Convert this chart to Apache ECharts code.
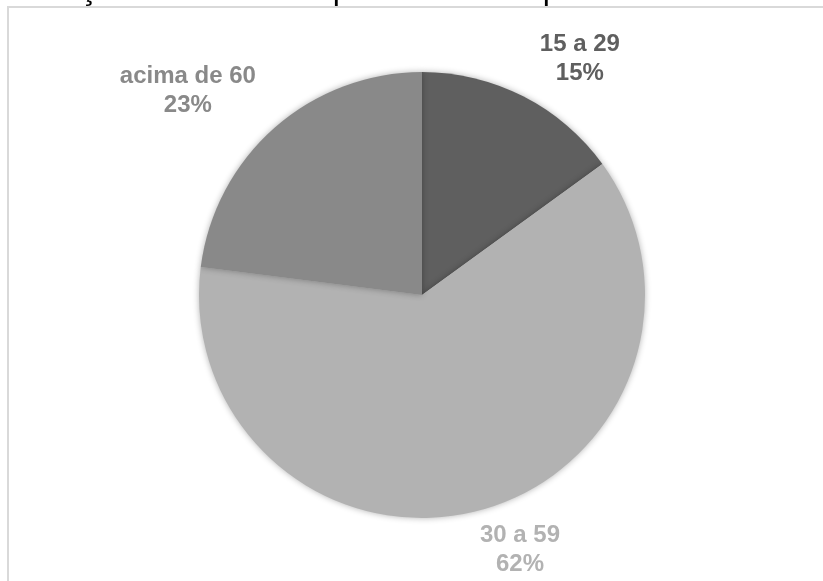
<!DOCTYPE html>
<html>
<head>
<meta charset="utf-8">
<script src="https://cdn.jsdelivr.net/npm/echarts@6/dist/echarts.min.js"></script>
<style>
html,body{margin:0;padding:0;background:#fff;}
#chart{width:823px;height:581px;}
</style>
</head>
<body>
<div id="chart"></div>
<script>
const titleText = 'Distribuição de idade dos praticantes de pesca amadora no Brasil';
const categories = ['15 a 29', '30 a 59', 'acima de 60'];
const values = [15, 62, 23];
const sliceColors = ['#5f5f5f', '#b2b2b2', '#898989'];

const FONT = "'Liberation Sans', Arial, Helvetica, sans-serif";
const CX = 422, CY = 295, R = 223, GAP = 10, HOUT = 12;

const total = values.reduce((a, b) => a + b, 0);
const midAngles = [];
let acc = 0;
values.forEach(v => {
  midAngles.push((acc + v / 2) / total * 2 * Math.PI);
  acc += v;
});

const chart = echarts.init(document.getElementById('chart'), null, {renderer: 'canvas'});
chart.setOption({
  backgroundColor: '#ffffff',
  animation: false,
  graphic: [
    {
      type: 'rect', z: 0, silent: true,
      shape: {x: 8, y: 7, width: 900, height: 700},
      style: {fill: 'none', stroke: '#d9d9d9', lineWidth: 2}
    },
    {
      type: 'text', z: 10, silent: true,
      style: {
        x: -35.5, y: -9.5, text: titleText,
        font: '32px ' + FONT, fill: '#000000',
        align: 'left', verticalAlign: 'middle'
      }
    }
  ],
  series: [{
    type: 'pie',
    center: [CX, CY],
    radius: [0, R],
    startAngle: 90,
    clockwise: true,
    percentPrecision: 0,
    avoidLabelOverlap: false,
    data: categories.map((c, i) => ({
      name: c, value: values[i],
      itemStyle: {color: sliceColors[i]},
      label: {color: sliceColors[i]}
    })),
    itemStyle: {
      borderWidth: 0,
      shadowBlur: 6,
      shadowColor: 'rgba(0,0,0,0.3)'
    },
    label: {
      show: true,
      position: 'outside',
      formatter: '{b}\n{d}%',
      fontFamily: FONT,
      fontWeight: 'bold',
      fontSize: 24,
      lineHeight: 29,
      align: 'center'
    },
    labelLine: {show: false},
    labelLayout: function (params) {
      const a = midAngles[params.dataIndex];
      const dx = Math.sin(a), dy = -Math.cos(a);
      const px = CX + (R + GAP) * dx;
      const py = CY + (R + GAP) * dy;
      const w = params.labelRect.width, h = params.labelRect.height;
      const hx = Math.abs(dx) > Math.abs(dy) * 0.5 ? Math.sign(dx) * HOUT : 0;
      return {
        x: px + (dx >= 0 ? w / 2 : -w / 2) + hx,
        y: py + (dy < 0 ? -h / 2 : h / 2),
        align: 'center',
        verticalAlign: 'middle'
      };
    },
    emphasis: {disabled: true}
  }]
});
</script>
</body>
</html>
